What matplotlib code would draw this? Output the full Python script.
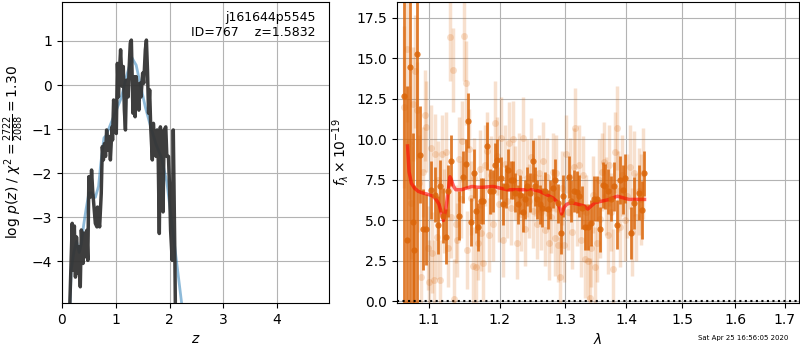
import matplotlib
matplotlib.use("Agg")
import matplotlib.pyplot as plt
from matplotlib.ticker import FormatStrFormatter, NullFormatter, NullLocator

# p(z) curve (noisy) and smooth fit
z_pdf = [0.14, 0.17, 0.19, 0.20, 0.23, 0.25, 0.27, 0.30, 0.32, 0.34, 0.36, 0.39,
         0.41, 0.43, 0.46, 0.48, 0.50, 0.53, 0.55, 0.57, 0.60, 0.62, 0.65, 0.66,
         0.68, 0.70, 0.73, 0.75, 0.77, 0.79, 0.81, 0.83, 0.86, 0.88, 0.90, 0.93,
         0.94, 0.96, 0.98, 1.01, 1.03, 1.05, 1.07, 1.09, 1.12, 1.14, 1.16, 1.18,
         1.20, 1.23, 1.25, 1.27, 1.29, 1.32, 1.34, 1.36, 1.38, 1.40, 1.43, 1.45,
         1.47, 1.50, 1.52, 1.55, 1.57, 1.59, 1.61, 1.63, 1.65, 1.68, 1.70, 1.72,
         1.75, 1.77, 1.79, 1.81, 1.83, 1.86, 1.88, 1.90, 1.93, 1.95, 1.98, 2.00,
         2.02, 2.05, 2.07, 2.10, 2.11]
logp = [-5.2, -3.98, -3.14, -4.2, -3.2, -4.36, -3.45, -4.28, -3.67, -4.58, -3.29, -4.05,
        -3.36, -3.9, -3.3, -3.98, -2.08, -2.54, -1.93, -2.39, -2.84, -3.14, -3.22, -2.77,
        -3.07, -3.22, -2.46, -1.4, -1.7, -1.33, -1.62, -1.02, -1.48, -1.17, -1.7, -0.95,
        -1.25, -0.34, -0.64, -1.1, 0.49, -0.27, 0.34, 0.8, -0.03, 0.42, -0.57, -1.02,
        0.11, -0.27, 0.42, 0.95, 1.02, -0.64, 0.19, -0.72, 0.19, -0.11, -0.57, 0.04,
        -0.27, 0.27, 0.04, 0.8, 1.02, 0.34, -0.64, -0.11, -0.95, -1.7, -0.87, -1.25,
        -1.62, -1.02, -1.7, -3.37, -0.95, -1.62, -2.88, -1.02, -0.95, -1.62, -1.62, -2.31,
        -3.3, -3.98, -1.02, -3.98, -5.2]

z_fit = [0.15, 0.17, 0.22, 0.27, 0.32, 0.36, 0.40, 0.45, 0.50, 0.55, 0.62, 0.68,
         0.72, 0.78, 0.82, 0.90, 1.00, 1.10, 1.20, 1.30, 1.38, 1.45, 1.55, 1.65,
         1.75, 1.85, 1.95, 2.05, 2.15, 2.23]
logp_fit = [-5.0, -4.2, -3.8, -3.55, -3.8, -3.6, -3.2, -2.8, -2.45, -2.45, -2.55, -2.3,
            -1.8, -1.2, -1.15, -0.9, -0.6, -0.3, 0.2, 0.62, 0.45, 0.05, -0.5, -0.95,
            -1.35, -1.65, -2.2, -3.2, -4.2, -5.0]

# spectrum: well-measured points
lam_dark = [1.067, 1.071, 1.075, 1.079, 1.081, 1.085, 1.088, 1.092, 1.096, 1.103,
            1.108, 1.112, 1.115, 1.120, 1.123, 1.126, 1.130, 1.142, 1.147, 1.151,
            1.154, 1.158, 1.162, 1.165, 1.169, 1.173, 1.176, 1.182, 1.186, 1.190,
            1.193, 1.196, 1.202, 1.205, 1.209, 1.212, 1.216, 1.220, 1.223, 1.227,
            1.230, 1.234, 1.238, 1.241, 1.245, 1.249, 1.253, 1.256, 1.260, 1.264,
            1.268, 1.272, 1.276, 1.280, 1.284, 1.288, 1.293, 1.297, 1.305, 1.309,
            1.313, 1.318, 1.322, 1.327, 1.332, 1.337, 1.341, 1.346, 1.351, 1.356,
            1.361, 1.365, 1.370, 1.375, 1.380, 1.385, 1.389, 1.395, 1.399, 1.408,
            1.414, 1.423, 1.428, 1.432]
flux_dark = [12.7, 3.8, 14.5, 4.9, 3.2, 15.3, 9.05, 4.45, 4.45, 6.9,
             6.6, 4.7, 7.15, 5.3, 4.0, 6.8, 8.7, 5.3, 7.7, 8.5,
             11.15, 4.9, 7.9, 5.6, 4.6, 6.2, 6.2, 9.6, 6.8, 6.8,
             8.4, 8.75, 7.6, 6.0, 7.1, 8.1, 7.5, 7.5, 6.7, 6.0,
             6.6, 5.5, 6.3, 7.1, 6.7, 8.65, 7.1, 6.3, 6.0, 5.8,
             6.8, 5.7, 6.3, 7.0, 7.5, 6.05, 4.25, 6.5, 7.7, 6.2,
             6.8, 6.75, 6.5, 5.8, 4.6, 4.6, 4.85, 6.35, 6.35, 4.45,
             7.2, 7.1, 6.8, 6.35, 7.1, 4.75, 7.5, 6.9, 7.6, 4.25,
             6.1, 6.7, 5.65, 7.9]
err_dark = [20.0, 9.5, 20.0, 5.5, 4.0, 20.0, 3.0, 2.5, 2.2, 1.8,
            1.7, 1.8, 1.6, 1.7, 1.7, 1.6, 1.6, 1.5, 1.6, 1.5,
            1.7, 1.5, 1.5, 1.4, 1.5, 1.4, 1.4, 1.5, 1.4, 1.3,
            1.4, 1.3, 1.3, 1.3, 1.3, 1.3, 1.2, 1.2, 1.2, 1.2,
            1.2, 1.2, 1.2, 1.2, 1.2, 1.3, 1.2, 1.2, 1.2, 1.2,
            1.2, 1.2, 1.2, 1.2, 1.3, 1.2, 1.3, 1.3, 1.3, 1.3,
            1.3, 1.3, 1.3, 1.3, 1.4, 1.4, 1.4, 1.4, 1.4, 1.4,
            1.4, 1.4, 1.4, 1.4, 1.5, 1.5, 1.5, 1.5, 1.5, 1.6,
            1.6, 1.7, 1.8, 1.4]

# spectrum: second (noisier) set
lam_light = [1.068, 1.071, 1.074, 1.076, 1.079, 1.082, 1.084, 1.087, 1.090, 1.092,
             1.095, 1.097, 1.099, 1.101, 1.103, 1.105, 1.107, 1.109, 1.111, 1.113,
             1.116, 1.118, 1.121, 1.124, 1.126, 1.129, 1.131, 1.133, 1.135, 1.137,
             1.139, 1.141, 1.144, 1.146, 1.149, 1.151, 1.153, 1.156, 1.159, 1.161,
             1.163, 1.166, 1.168, 1.171, 1.173, 1.176, 1.178, 1.181, 1.184, 1.187,
             1.190, 1.193, 1.196, 1.199, 1.202, 1.205, 1.208, 1.211, 1.214, 1.217,
             1.220, 1.223, 1.226, 1.229, 1.232, 1.235, 1.238, 1.241, 1.244, 1.247,
             1.250, 1.253, 1.256, 1.259, 1.262, 1.265, 1.268, 1.271, 1.274, 1.277,
             1.280, 1.283, 1.286, 1.289, 1.292, 1.295, 1.298, 1.301, 1.304, 1.307,
             1.310, 1.313, 1.316, 1.319, 1.322, 1.325, 1.328, 1.331, 1.334, 1.337,
             1.339, 1.342, 1.345, 1.348, 1.351, 1.354, 1.357, 1.360, 1.363, 1.366,
             1.369, 1.372, 1.375, 1.378, 1.381, 1.384, 1.387, 1.390, 1.394, 1.398,
             1.402, 1.406, 1.410, 1.414, 1.418, 1.422, 1.426, 1.430]
flux_light = [12.0, 15.6, 9.8, 6.1, 12.2, 14.2, 11.8, 7.3, 1.5, 8.0,
              11.5, 10.8, 3.3, 1.2, 9.5, 3.0, 1.3, 9.1, 4.0, 7.5,
              1.3, 9.1, 5.6, 9.2, 3.3, 16.3, 5.2, 14.3, 0.15, 4.8,
              3.8, 8.8, 6.3, 9.9, 16.4, 13.5, 3.2, 9.4, 6.4, 2.2,
              7.6, 2.1, 3.6, 8.2, 4.2, 2.4, 8.4, 9.3, 4.1, 7.8,
              4.8, 11.0, 9.0, 6.0, 10.1, 3.8, 8.5, 6.2, 9.8, 5.8,
              10.0, 7.3, 3.6, 8.0, 5.4, 10.1, 4.5, 7.6, 6.2, 8.9,
              5.6, 7.7, 4.8, 7.9, 5.5, 8.7, 4.4, 7.7, 3.6, 5.2,
              8.0, 3.9, 7.9, 3.5, 1.5, 7.0, 3.5, 9.1, 5.5, 7.7,
              4.3, 8.3, 10.7, 5.7, 8.4, 3.8, 7.8, 2.6, 5.5, 2.5,
              0.2, 3.3, 6.6, 2.1, 3.6, 7.5, 5.1, 8.0, 8.6, 6.5,
              4.1, 8.4, 5.5, 2.0, 9.2, 10.7, 6.8, 4.6, 7.8, 5.0,
              6.5, 8.3, 4.3, 7.9, 5.2, 6.8, 6.3, 7.9]
err_light = [5.0, 4.5, 3.5, 3.5, 3.5, 3.5, 3.0, 3.0, 2.8, 2.8,
             2.8, 2.8, 2.6, 2.6, 2.6, 2.5, 2.5, 2.5, 2.6, 2.4,
             2.5, 2.4, 2.6, 2.5, 2.4, 2.7, 2.5, 2.6, 2.5, 2.4,
             2.3, 2.6, 2.4, 2.5, 2.8, 2.6, 2.4, 2.5, 2.3, 2.4,
             2.5, 2.4, 2.3, 2.4, 2.3, 2.4, 2.5, 2.4, 2.3, 2.4,
             2.3, 2.6, 2.4, 2.3, 2.5, 2.3, 2.4, 2.3, 2.5, 2.3,
             2.4, 2.3, 2.2, 2.4, 2.3, 2.5, 2.3, 2.4, 2.3, 2.4,
             2.3, 2.4, 2.2, 2.4, 2.3, 2.4, 2.2, 2.4, 2.3, 2.2,
             2.4, 2.3, 2.4, 2.3, 2.5, 2.3, 2.3, 2.4, 2.3, 2.4,
             2.3, 2.4, 2.5, 2.3, 2.5, 2.3, 2.4, 2.4, 2.3, 2.4,
             2.5, 2.4, 2.4, 2.5, 2.4, 2.5, 2.4, 2.4, 2.5, 2.4,
             2.4, 2.5, 2.4, 2.5, 2.5, 2.6, 2.5, 2.5, 2.5, 2.5,
             2.6, 2.6, 2.7, 2.6, 2.7, 2.7, 2.8, 2.8]

# best-fit model
lam_model = [1.072, 1.074, 1.077, 1.081, 1.086, 1.092, 1.100, 1.106, 1.110, 1.114,
             1.117, 1.120, 1.123, 1.126, 1.129, 1.131, 1.134, 1.137, 1.145, 1.152,
             1.160, 1.168, 1.175, 1.190, 1.200, 1.210, 1.225, 1.240, 1.250, 1.260,
             1.270, 1.280, 1.286, 1.291, 1.294, 1.298, 1.302, 1.310, 1.320, 1.330,
             1.336, 1.342, 1.348, 1.360, 1.372, 1.385, 1.395, 1.405, 1.418, 1.432]
flux_model = [9.6, 8.0, 7.3, 7.0, 6.8, 6.7, 6.6, 6.5, 6.3, 6.0,
              5.5, 5.0, 5.6, 6.6, 7.7, 7.5, 7.1, 6.9, 6.9, 7.0,
              7.1, 7.05, 7.05, 7.1, 7.0, 6.9, 6.9, 6.9, 6.9, 6.8,
              6.6, 6.4, 6.2, 5.8, 5.4, 5.8, 6.0, 6.1, 6.0, 5.9,
              5.7, 5.9, 6.1, 6.2, 6.3, 6.5, 6.4, 6.3, 6.3, 6.3]

zticks = [0, 1, 2, 3, 4]
lpticks = [-4, -3, -2, -1, 0, 1]
lam_ticks = [1.1, 1.2, 1.3, 1.4, 1.5, 1.6, 1.7]
fticks = [0.0, 2.5, 5.0, 7.5, 10.0, 12.5, 15.0, 17.5]

orange = (0.86, 0.40, 0.04)

fig = plt.figure(figsize=(8, 3.5), dpi=100)
ax1 = fig.add_axes([0.0775, 0.134, 0.334, 0.861])
ax2 = fig.add_axes([0.496, 0.134, 0.503, 0.861])

# left panel: p(z)
ax1.plot(z_fit, logp_fit, color='tab:blue', lw=2, alpha=0.5, zorder=2)
ax1.plot(z_pdf, logp, color='0.2', lw=2.5, alpha=0.95, zorder=3)
ax1.set_xlim(0, 4.97)
ax1.set_ylim(-4.95, 1.89)
ax1.set_xticks(zticks)
ax1.set_yticks(lpticks)
ax1.grid(color='0.7')
ax1.set_axisbelow(True)
ax1.set_xlabel('$z$')
ax1.set_ylabel(r'log $p(z)$ / $\chi^2=\frac{2722}{2088}=1.30$')
ax1.text(0.95, 0.97, 'j161644p5545\nID=767    z=1.5832', transform=ax1.transAxes,
         ha='right', va='top', fontsize=9)

# right panel: spectrum
ax2.errorbar(lam_light, flux_light, yerr=err_light, fmt='o', color=orange,
             alpha=0.2, ms=5, elinewidth=2.5, capsize=0, mew=0)
ax2.errorbar(lam_dark, flux_dark, yerr=err_dark, fmt='o', color=orange,
             alpha=0.85, ms=4.5, elinewidth=2, capsize=0, mew=0)
ax2.plot(lam_model, flux_model, color='red', lw=2.5, alpha=0.6)
ax2.axhline(0, color='k', ls=':', lw=1.5)

ax2.set_xscale('log')
ax2.set_xlim(1.058, 1.73)
ax2.set_ylim(-0.1, 18.5)
ax2.xaxis.set_minor_locator(NullLocator())
ax2.xaxis.set_minor_formatter(NullFormatter())
ax2.set_xticks(lam_ticks)
ax2.xaxis.set_major_formatter(FormatStrFormatter('%.1f'))
ax2.set_yticks(fticks)
ax2.grid(color='0.7')
ax2.set_axisbelow(True)
ax2.set_xlabel(r'$\lambda$')
ax2.set_ylabel(r'$f_\lambda\times 10^{-19}$')

fig.text(0.985, 0.025, 'Sat Apr 25 16:56:05 2020', ha='right', va='bottom', fontsize=5)

fig.savefig('out.png', dpi=100)
